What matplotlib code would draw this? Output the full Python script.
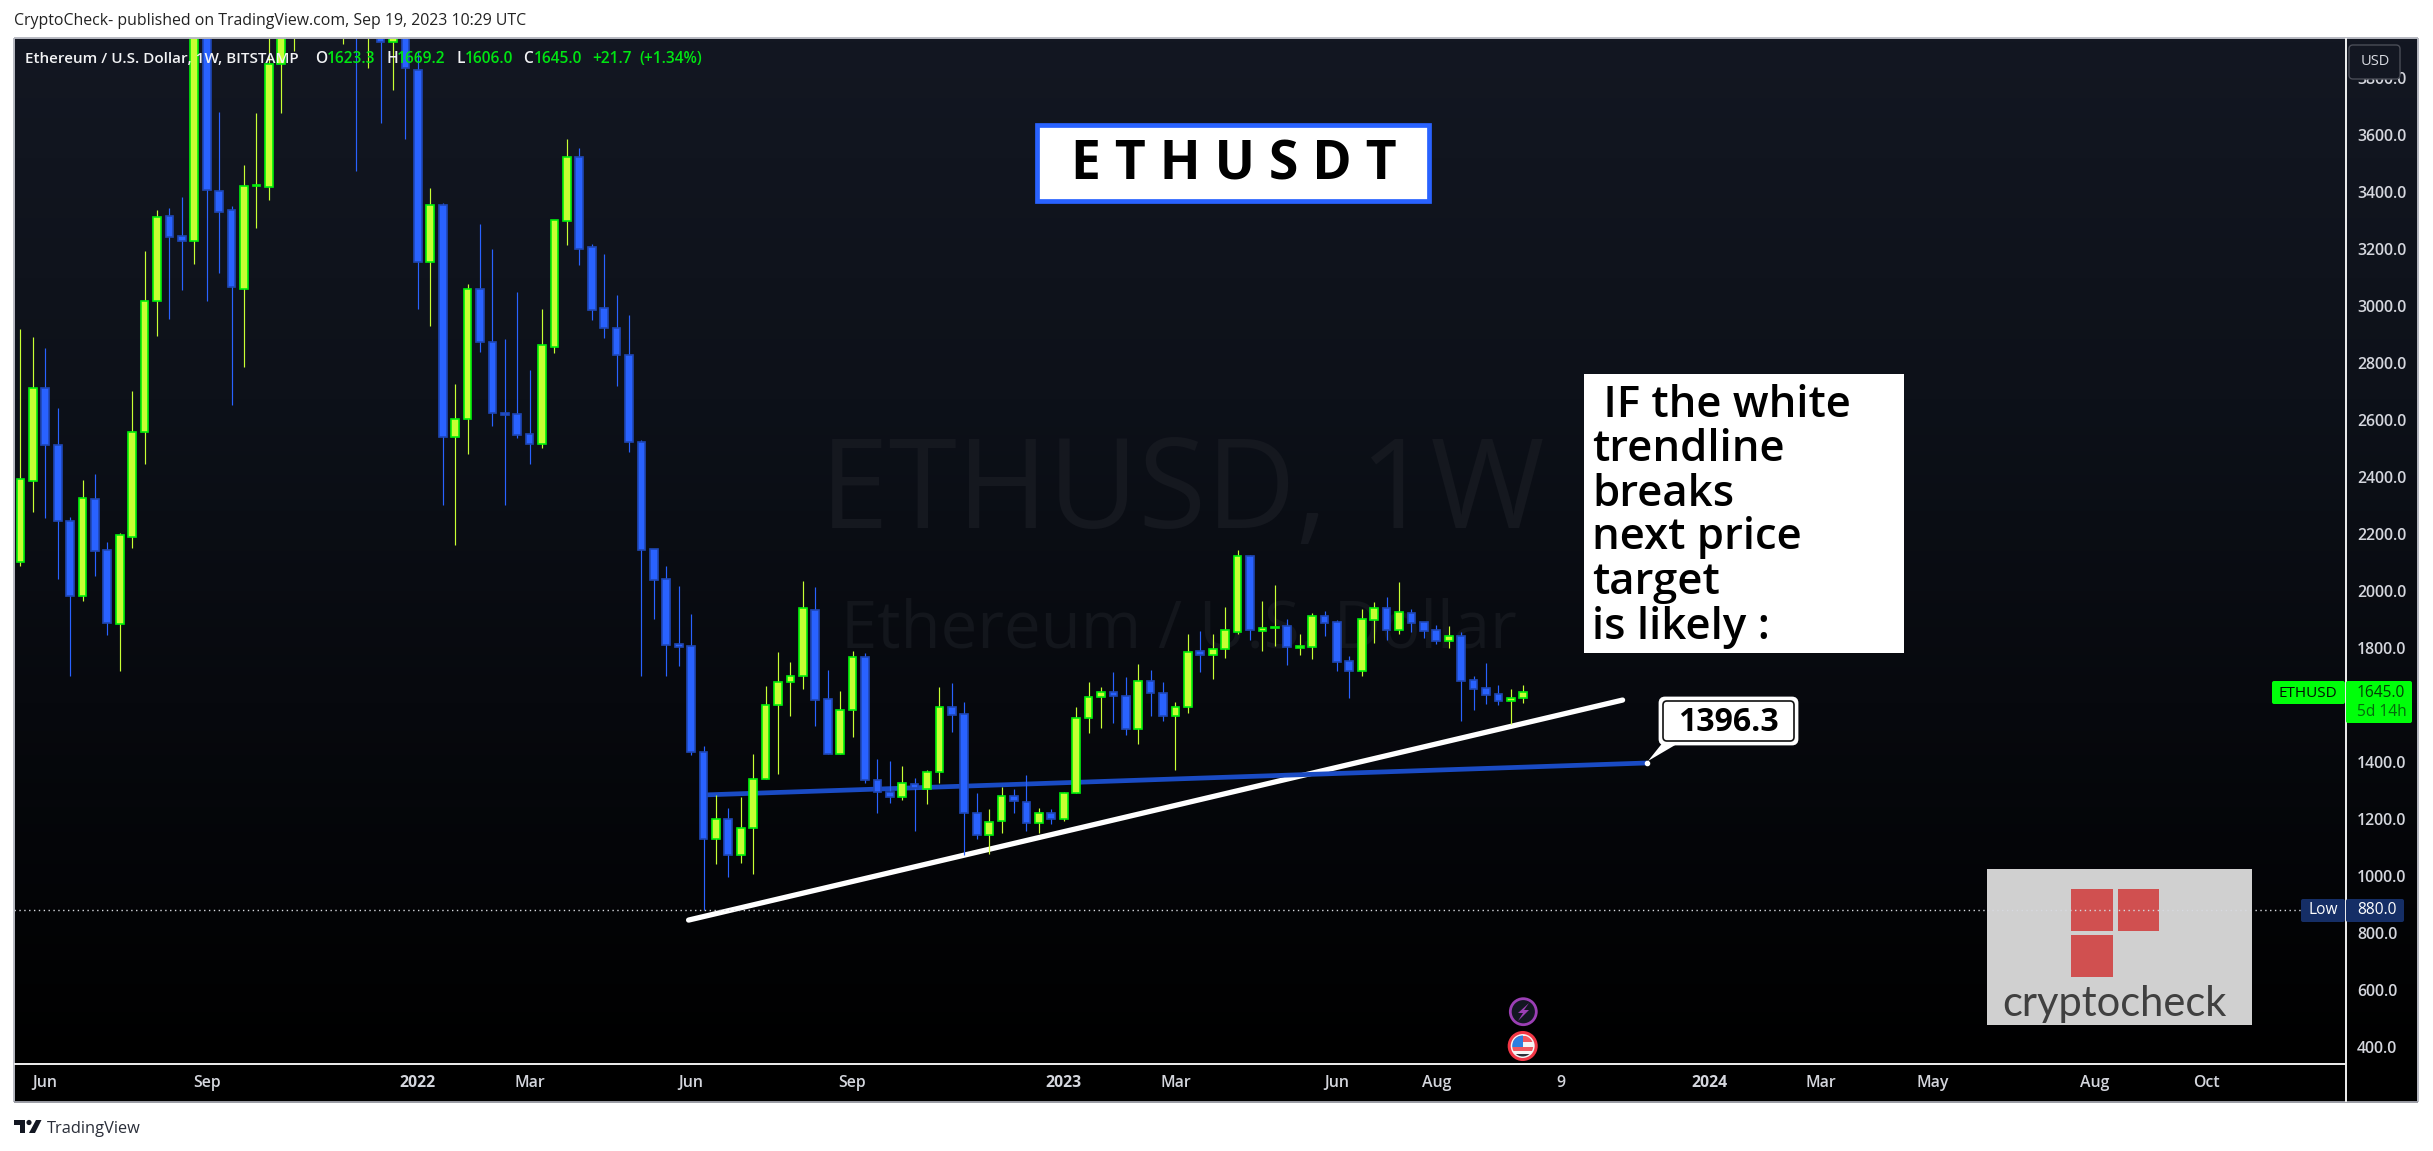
import numpy as np
import matplotlib
matplotlib.use("Agg")
import matplotlib.pyplot as plt
from matplotlib.colors import LinearSegmentedColormap
from matplotlib.patches import Rectangle, FancyBboxPatch, Circle, Polygon

# weekly candles (the ones above the pane are only guessed)
opens = [2101, 2385, 2711, 2511, 2244, 1983, 2322, 2144, 1885, 2190, 2557, 3016, 3315, 3244, 3227, 3960, 3402, 3336, 3059, 3420,
         3416, 3849, 4000, 4300, 4450, 4600, 4350, 4550, 4100, 4100, 3927, 4050, 3827, 3153, 3353, 2541, 2604, 3059, 2873, 2624,
         2620, 2550, 2517, 2857, 3297, 3522, 3206, 2992, 2922, 2827, 2522, 2146, 2041, 1813, 1806, 1434, 1129, 1199, 1072, 1167,
         1339, 1599, 1679, 1700, 1934, 1620, 1427, 1581, 1767, 1336, 1296, 1276, 1322, 1304, 1364, 1592, 1567, 1220, 1143, 1192,
         1279, 1260, 1185, 1220, 1199, 1290, 1553, 1627, 1644, 1630, 1515, 1683, 1641, 1562, 1592, 1788, 1776, 1795, 1857, 2122,
         1861, 1871, 1876, 1801, 1804, 1911, 1890, 1753, 1720, 1899, 1939, 1864, 1922, 1890, 1862, 1825, 1841, 1686, 1658, 1637,
         1615, 1623.3]
highs = [2919, 2891, 2853, 2642, 2260, 2389, 2410, 2172, 2203, 2702, 3193, 3337, 3344, 3382, 4020, 4030, 3681, 3351, 3495, 3677,
         4000, 4100, 4400, 4500, 4670, 4800, 4650, 4700, 4400, 4300, 4150, 4100, 3894, 3414, 3361, 2726, 3077, 3288, 3200, 2884,
         3049, 2775, 2989, 3301, 3586, 3554, 3217, 3182, 3039, 2968, 2530, 2146, 2088, 2017, 1919, 1456, 1283, 1238, 1277, 1428,
         1666, 1785, 1751, 2035, 2014, 1723, 1649, 1789, 1781, 1410, 1403, 1386, 1344, 1372, 1663, 1677, 1610, 1291, 1235, 1312,
         1305, 1354, 1238, 1235, 1294, 1593, 1681, 1663, 1716, 1698, 1744, 1723, 1680, 1609, 1849, 1859, 1849, 1944, 2144, 2126,
         1965, 2021, 1902, 1849, 1923, 1930, 1898, 1772, 1937, 1961, 1979, 2031, 1937, 1890, 1880, 1877, 1856, 1702, 1747, 1670,
         1656, 1669.2]
lows = [2089, 2278, 2257, 2043, 1703, 1966, 2054, 1846, 1720, 2152, 2447, 2896, 2955, 3057, 3148, 3018, 3116, 2654, 2787, 3274,
        3372, 3678, 3896, 4100, 4300, 4200, 3920, 3475, 3836, 3643, 3759, 3587, 2990, 2931, 2302, 2162, 2482, 2840, 2580, 2303,
        2538, 2447, 2503, 2835, 3215, 3145, 2952, 2889, 2720, 2489, 1703, 1903, 1703, 1738, 1425, 880, 1043, 997, 1047, 1008,
        1339, 1359, 1562, 1657, 1527, 1427, 1427, 1489, 1327, 1222, 1257, 1268, 1159, 1254, 1327, 1506, 1075, 1131, 1078, 1152,
        1222, 1159, 1152, 1183, 1194, 1290, 1503, 1520, 1538, 1496, 1464, 1562, 1544, 1373, 1573, 1716, 1691, 1765, 1850, 1828,
        1789, 1807, 1740, 1775, 1761, 1842, 1719, 1624, 1702, 1817, 1828, 1849, 1856, 1835, 1814, 1800, 1544, 1582, 1603, 1600,
        1533, 1606]
closes = [2392, 2711, 2511, 2244, 1983, 2325, 2139, 1889, 2195, 2557, 3016, 3311, 3243, 3227, 3950, 3406, 3329, 3066, 3420, 3423,
          3849, 3990, 4300, 4450, 4600, 4530, 4550, 4300, 4300, 3925, 4050, 3833, 3153, 3353, 2541, 2602, 3059, 2873, 2623, 2618,
          2548, 2517, 2863, 3301, 3522, 3201, 2987, 2924, 2827, 2524, 2143, 2040, 1811, 1804, 1434, 1129, 1199, 1072, 1167, 1339,
          1599, 1679, 1700, 1939, 1616, 1427, 1581, 1767, 1336, 1293, 1276, 1325, 1308, 1364, 1592, 1566, 1220, 1143, 1190, 1279,
          1264, 1185, 1220, 1199, 1290, 1553, 1627, 1644, 1630, 1515, 1683, 1641, 1562, 1592, 1785, 1776, 1795, 1862, 2122, 1862,
          1869, 1874, 1802, 1806, 1911, 1889, 1752, 1720, 1901, 1939, 1864, 1925, 1889, 1861, 1825, 1841, 1685, 1657, 1636, 1615,
          1623, 1645]

price_ticks = [400, 600, 800, 1000, 1200, 1400, 1600, 1800, 2000, 2200, 2400, 2600, 2800, 3000, 3200, 3400, 3600, 3800]
time_ticks = [2, 15, 32, 41, 54, 67, 84, 93, 106, 114, 124, 136, 145, 154, 167, 176]
time_labels = ["Jun", "Sep", "2022", "Mar", "Jun", "Sep", "2023", "Mar", "Jun", "Aug", "9", "2024", "Mar", "May", "Aug", "Oct"]

white_line_x = [53.8, 129.0]
white_line_y = [845, 1617]
blue_line_x = [55, 131]
blue_line_y = [1284, 1396.3]
low_price = 880

W, H = 2433, 1151
FONT = "Open Sans"
plt.rcParams["font.family"] = [FONT, "DejaVu Sans"]

fig = plt.figure(figsize=(W / 100, H / 100), dpi=100, facecolor="white")


def rect_of(x0, y0, x1, y1):
    return [x0 / W, 1 - y1 / H, (x1 - x0) / W, (y1 - y0) / H]


# everything that is not data goes on two pixel-coordinate layers
bg = fig.add_axes([0, 0, 1, 1], zorder=0)
bg.set_xlim(0, W)
bg.set_ylim(H, 0)
bg.axis("off")

grad = LinearSegmentedColormap.from_list("pane", [(0, "#131722"), (0.35, "#0d1119"), (0.65, "#07090e"), (1, "#000000")])
bg.imshow(np.linspace(0, 1, 256).reshape(-1, 1), cmap=grad, aspect="auto", extent=[14, 2418, 1064, 38], zorder=0)
bg.set_xlim(0, W)
bg.set_ylim(H, 0)
bg.add_patch(Rectangle((14, 1064), 2404, 38, fc="black", ec="none", zorder=1))
bg.text(1182, 495, "ETHUSD, 1W", color="#15181f", fontsize=89, ha="center", va="center", zorder=2)
bg.text(1179, 630, "Ethereum / U.S. Dollar", color="#13161c", fontsize=47, ha="center", va="center", zorder=2)

# candles and the two drawn lines on the price scale
ax = fig.add_axes(rect_of(14, 38, 2346, 1064), zorder=1)
ax.patch.set_visible(False)
ax.set_xlim((14 - 20.4) / 12.42, (2346 - 20.4) / 12.42)
ax.set_ylim(340, 3940)
for s in ax.spines.values():
    s.set_visible(False)

ax.plot(white_line_x, white_line_y, color="white", lw=3.8, solid_capstyle="round", zorder=2)
ax.plot(blue_line_x, blue_line_y, color="#1a4bc4", lw=3.4, solid_capstyle="butt", zorder=3)
ax.plot(blue_line_x[1], blue_line_y[1], "o", color="white", ms=3, zorder=4)
ax.axhline(low_price, color="#d8dae0", lw=1, dashes=(1, 2.5), zorder=9)

for i in range(len(opens)):
    up = closes[i] >= opens[i]
    wick = "#c8ff33" if up else "#2962ff"
    fill = "#c6ff33" if up else "#2962ff"
    edge = "#00f00a" if up else "#1f47b5"
    ax.vlines(i, lows[i], highs[i], color=wick, lw=0.85, zorder=5)
    ax.bar(i, abs(closes[i] - opens[i]), bottom=min(opens[i], closes[i]), width=0.62,
           facecolor=fill, edgecolor=edge, linewidth=1.2, zorder=6)

ax.yaxis.tick_right()
ax.set_yticks(price_ticks)
ax.set_yticklabels([f"{p:.1f}" for p in price_ticks])
ax.tick_params(axis="y", length=0, pad=8, labelsize=11.4, labelcolor="#d4d6dd")
ax.set_xticks(time_ticks)
ax.set_xticklabels(time_labels)
ax.tick_params(axis="x", length=0, pad=8, labelsize=11.4, labelcolor="#d4d6dd")
for lab in ax.get_xticklabels() + ax.get_yticklabels():
    lab.set_fontweight("semibold")
for lab in ax.get_xticklabels():
    if lab.get_text().startswith("20"):
        lab.set_fontweight("bold")

# overlay layer
ov = fig.add_axes([0, 0, 1, 1], zorder=2)
ov.set_xlim(0, W)
ov.set_ylim(H, 0)
ov.axis("off")

# frame
for x0, y0, x1, y1, c in [(14, 38, 2418, 38, "#b8bac2"), (13.5, 38, 13.5, 1102, "#b8bac2"),
                          (2418, 38, 2418, 1102, "#b8bac2"), (14, 1102, 2418, 1102, "#9a9ca4"),
                          (14, 1064, 2346, 1064, "#f0f0f0"), (2346, 38, 2346, 1102, "#f0f0f0")]:
    ov.plot([x0, x1], [y0, y1], color=c, lw=1.4, solid_capstyle="butt")

ov.text(14, 21, "CryptoCheck- published on TradingView.com, Sep 19, 2023 10:29 UTC", color="#222222",
        fontsize=11.4, va="center")

# legend line
ov.text(25, 59, "Ethereum / U.S. Dollar, 1W, BITSTAMP", color="#f2f3f5", fontsize=11, va="center", weight="semibold")
for x, s, c in [(315.5, "O", "#f2f3f5"), (327, "1623.3", "#00e512"), (386.5, "H", "#f2f3f5"), (397, "1669.2", "#00e512"),
                (456, "L", "#f2f3f5"), (465, "1606.0", "#00e512"), (523, "C", "#f2f3f5"), (534, "1645.0", "#00e512"),
                (592.5, "+21.7", "#00e512"), (639, "(+1.34%)", "#00e512")]:
    ov.text(x, 59, s, color=c, fontsize=11.2, va="center", weight="semibold")

# USD button
ov.add_patch(FancyBboxPatch((2349, 45), 51, 34, boxstyle="round,pad=0,rounding_size=4", fc="#131722", ec="#4a4d57", lw=1))
ov.text(2375, 61, "USD", color="#d9dbe2", fontsize=10.5, ha="center", va="center")

# ETHUSDT title
ov.add_patch(Rectangle((1037, 125), 392, 76, fc="white", ec="#2962ff", lw=3.4))
ov.text(1234, 165, "E T H U S D T", color="black", fontsize=38.5, weight="bold", ha="center", va="center")

# note box
ov.add_patch(Rectangle((1584, 374), 320, 279, fc="white", ec="none"))
note_lines = [" IF the white", "trendline", "breaks", "next price", "target", "is likely :"]
note_y = [405, 449, 494, 537, 582, 627]
for s, y in zip(note_lines, note_y):
    ov.text(1592, y, s, color="black", fontsize=31.5, weight="semibold", va="center")

# 1396.3 callout
ov.add_patch(Polygon([(1648, 761), (1664, 741), (1682, 741)], fc="white", ec="none", zorder=3))
ov.add_patch(FancyBboxPatch((1660, 698), 137, 46, boxstyle="round,pad=0,rounding_size=5", fc="white", ec="white", lw=2, zorder=3))
ov.add_patch(FancyBboxPatch((1663, 701), 131, 40, boxstyle="round,pad=0,rounding_size=4", fc="white", ec="#111111", lw=1.2, zorder=3))
ov.text(1728, 722, "1396.3", color="black", fontsize=23, weight="bold", ha="center", va="center", zorder=4)

# cryptocheck logo
ov.add_patch(Rectangle((1987, 869), 265, 156, fc="#d0d0d0", ec="none", zorder=1))
for x, y in [(2071, 889), (2117.5, 889), (2071, 935)]:
    ov.add_patch(Rectangle((x, y), 41.5, 41.5, fc="#d05050", ec="none", zorder=2))
ov.plot([1987, 2252], [910.2, 910.2], color="#d8dae0", lw=1, dashes=(1, 2.5), zorder=3)
logo_txt = ov.text(2114, 1016, "cryptocheck", color="#404040", fontsize=30, family="Lato", weight="normal",
                   ha="center", va="baseline", zorder=2)
logo_txt.set_clip_path(Rectangle((1987, 869), 265, 156, transform=ov.transData))
logo_txt.set_clip_on(True)

# price tags
ov.add_patch(FancyBboxPatch((2272, 681), 73, 23, boxstyle="round,pad=0,rounding_size=2", fc="#00ff0a", ec="none", zorder=3))
ov.add_patch(FancyBboxPatch((2346, 681), 66, 42, boxstyle="round,pad=0,rounding_size=2", fc="#00ff0a", ec="none", zorder=3))
ov.text(2308, 693, "ETHUSD", color="#041004", fontsize=11, ha="center", va="center", zorder=4)
ov.text(2357, 693, "1645.0", color="#053d08", fontsize=11.2, va="center", zorder=4)
ov.text(2357, 712, "5d 14h", color="#056b0c", fontsize=11.2, va="center", zorder=4)
ov.add_patch(FancyBboxPatch((2301, 899), 44, 23, boxstyle="round,pad=0,rounding_size=2", fc="#152e66", ec="none", zorder=3))
ov.add_patch(FancyBboxPatch((2346, 899), 58, 23, boxstyle="round,pad=0,rounding_size=2", fc="#152e66", ec="none", zorder=3))
ov.text(2323, 910, "Low", color="white", fontsize=11.2, ha="center", va="center", zorder=4)
ov.text(2357, 910, "880.0", color="white", fontsize=11.2, va="center", zorder=4)

# event icons
ov.add_patch(Circle((1523.3, 1011.7), 13, fc="#131722", ec="#9b3fb5", lw=2, zorder=3))
ov.add_patch(Polygon([(1529, 1003), (1518, 1013), (1523, 1013), (1518, 1021), (1529, 1010), (1524, 1010)],
                     fc="#9b3fb5", ec="none", zorder=4))
ov.add_patch(Circle((1522.7, 1046), 13.5, fc="#f5f5f5", ec="#f23645", lw=2.2, zorder=3))
flag_clip = Circle((1522.7, 1046), 10.5, transform=ov.transData)
for y0, y1, c in [(1036, 1042, "#f2575f"), (1047, 1051, "#f2575f"), (1054, 1058, "#2a2e39")]:
    r = Rectangle((1510, y0), 26, y1 - y0, fc=c, ec="none", zorder=4)
    ov.add_patch(r)
    r.set_clip_path(flag_clip)
r = Rectangle((1510, 1034), 13, 13, fc="#2d7fe0", ec="none", zorder=5)
ov.add_patch(r)
r.set_clip_path(flag_clip)

# TradingView footer
ov.add_patch(Polygon([(14, 1120), (25, 1120), (25, 1133), (20, 1133), (20, 1125), (14, 1125)], fc="#131722", ec="none"))
ov.add_patch(Circle((29, 1122.5), 2.6, fc="#131722", ec="none"))
ov.add_patch(Polygon([(36, 1120), (41.5, 1120), (35, 1133), (29, 1133)], fc="#131722", ec="none"))
ov.text(47, 1129, "TradingView", color="#2a2e39", fontsize=11.8, va="center")

fig.savefig("out.png", dpi=100, facecolor="white")
